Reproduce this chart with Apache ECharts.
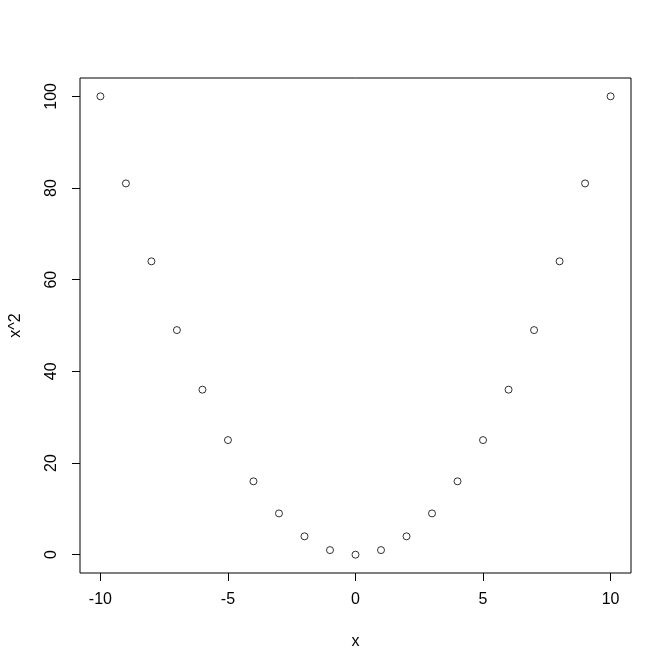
<!DOCTYPE html>
<html>
<head>
<meta charset="utf-8">
<script src="https://cdn.jsdelivr.net/npm/echarts@6/dist/echarts.min.js"></script>
<style>html,body{margin:0;padding:0;background:#fff;}#c{width:672px;height:671px;}</style>
</head>
<body>
<div id="c"></div>
<script>
var xValues = [-10,-9,-8,-7,-6,-5,-4,-3,-2,-1,0,1,2,3,4,5,6,7,8,9,10];
var yValues = [100,81,64,49,36,25,16,9,4,1,0,1,4,9,16,25,36,49,64,81,100];
var xTicks = [-10,-5,0,5,10];
var yTicks = [0,20,40,60,80,100];
var xLabel = 'x';
var yLabel = 'x^2';

var points = xValues.map(function(v,i){return [v, yValues[i]];});
var font = 'Liberation Sans, Arial, sans-serif';
var chart = echarts.init(document.getElementById('c'), null, {renderer:'canvas'});
chart.setOption({
  animation:false,
  backgroundColor:'#fff',
  grid:{left:79, top:78, right:41, bottom:98, show:true, borderColor:'#000', borderWidth:1, backgroundColor:'transparent'},
  xAxis:{
    type:'value', min:-10.8, max:10.8, position:'bottom',
    name:xLabel, nameLocation:'middle', nameGap:61,
    nameTextStyle:{color:'#000', fontSize:16, fontFamily:font},
    axisLine:{show:false, onZero:false},
    splitLine:{show:false},
    axisTick:{show:true, inside:false, length:8, customValues:xTicks, lineStyle:{color:'#000', width:1}},
    axisLabel:{show:true, customValues:xTicks, margin:19, color:'#000', fontSize:16, fontFamily:font}
  },
  yAxis:{
    type:'value', min:-4, max:104, position:'left',
    name:yLabel, nameLocation:'middle', nameGap:56, nameRotate:90,
    nameTextStyle:{color:'#000', fontSize:16, fontFamily:font},
    axisLine:{show:false, onZero:false},
    splitLine:{show:false},
    axisTick:{show:true, inside:false, length:8, customValues:yTicks, lineStyle:{color:'#000', width:1}},
    axisLabel:{show:true, customValues:yTicks, rotate:90, margin:20, color:'#000', fontSize:16, fontFamily:font}
  },
  series:[{
    type:'scatter',
    data:points,
    symbol:'circle',
    symbolSize:7,
    itemStyle:{color:'transparent', borderColor:'#000', borderWidth:1}
  }]
});
</script>
</body>
</html>
